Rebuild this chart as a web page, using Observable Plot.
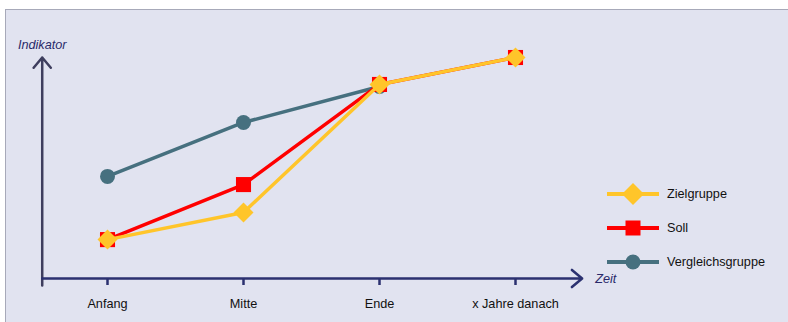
<!DOCTYPE html>
<html><head><meta charset="utf-8">
<script src="https://cdn.jsdelivr.net/npm/d3@7"></script>
<script src="https://cdn.jsdelivr.net/npm/@observablehq/plot@0.6"></script>
<style>
html,body{margin:0;padding:0;background:#fff;}
#wrap{position:relative;width:788px;height:322px;overflow:hidden;font-family:"Liberation Sans",Arial,sans-serif;}
#panel{position:absolute;left:5px;top:9px;right:0;bottom:0;background:#E1E3F0;border-top:1px solid #A7A9B9;border-left:1px solid #A7A9B9;}
#chart{position:absolute;left:0;top:0;}
#legend{position:absolute;left:607px;top:177px;}
.row{display:flex;align-items:center;height:34px;font-size:12.7px;color:#111;}
.row svg{margin-right:8px;display:block}
</style></head><body>
<div id="wrap"><div id="panel"></div><div id="chart"></div><div id="legend"></div></div>
<script>
const phases = ["Anfang", "Mitte", "Ende", "x Jahre danach"];
const zielgruppe = [17.6, 29.9, 87.8, 100];
const soll = [17.6, 42.5, 87.8, 100];
const vergleichsgruppe = [46.2, 70.6, 86.9];
const seriesNames = ["Zielgruppe", "Soll", "Vergleichsgruppe"];
const seriesColors = ["#FFC52A", "#FF0000", "#46707F"];

const toRows = (vals) => vals.map((v, i) => ({i, v}));
const zRows = toRows(zielgruppe), sRows = toRows(soll), vRows = toRows(vergleichsgruppe);

const xDomain = [-0.5, phases.length - 0.5];
const xStart = -0.48, xEnd = 3.49;
const yTop = 100, yBottomExt = -3.2;

const chart = Plot.plot({
  width: 788, height: 322,
  marginLeft: 39, marginRight: 205, marginTop: 57, marginBottom: 44,
  x: {domain: xDomain},
  y: {domain: [0, 100], axis: null},
  style: {background: "transparent", fontFamily: "Liberation Sans, Arial, sans-serif", fontSize: "12.7px"},
  marks: [
    Plot.axisX({ticks: phases.map((_, i) => i), tickFormat: i => phases[i], tickSize: 7, tickPadding: 13,
      stroke: "#2B3170", strokeWidth: 2.5, fill: "#111", fontSize: 12.7, label: null}),
    Plot.arrow([{x1: xStart, y1: yBottomExt, x2: xStart, y2: yTop}], {x1: "x1", y1: "y1", x2: "x2", y2: "y2",
      stroke: "#3E3E5E", strokeWidth: 2.5, headLength: 8, headAngle: 80}),
    Plot.arrow([{x1: xStart, y1: 0, x2: xEnd, y2: 0}], {x1: "x1", y1: "y1", x2: "x2", y2: "y2",
      stroke: "#2B3170", strokeWidth: 2.5, headLength: 8, headAngle: 80}),
    Plot.text([{x: xStart, y: yTop, t: "Indikator"}], {x: "x", y: "y", text: "t", dy: -13,
      fill: "#2A2A6A", fontStyle: "italic", fontSize: 12.7}),
    Plot.text([{x: xEnd, y: 0, t: "Zeit"}], {x: "x", y: "y", text: "t", dx: 13, textAnchor: "start",
      fill: "#2A2A6A", fontStyle: "italic", fontSize: 12.7}),
    Plot.line(vRows, {x: "i", y: "v", stroke: seriesColors[2], strokeWidth: 3.5}),
    Plot.dot(vRows, {x: "i", y: "v", symbol: "circle", r: 7.5, fill: seriesColors[2], stroke: "none"}),
    Plot.line(sRows, {x: "i", y: "v", stroke: seriesColors[1], strokeWidth: 3.5}),
    Plot.dot(sRows, {x: "i", y: "v", symbol: "square", r: 8.5, fill: seriesColors[1], stroke: "none"}),
    Plot.line(zRows, {x: "i", y: "v", stroke: seriesColors[0], strokeWidth: 3.5}),
    Plot.dot(zRows, {x: "i", y: "v", symbol: "diamond2", r: 9, fill: seriesColors[0], stroke: "none"})
  ]
});
document.getElementById("chart").appendChild(chart);

// legend
const legend = d3.select("#legend");
const symSizes = [308, 225, 177];
const d3Syms = [d3.symbolDiamond2, d3.symbolSquare, d3.symbolCircle];
seriesNames.forEach((name, k) => {
  const row = legend.append("div").attr("class", "row");
  const svg = row.append("svg").attr("width", 52).attr("height", 24);
  svg.append("line").attr("x1", 0).attr("x2", 52).attr("y1", 12).attr("y2", 12)
    .attr("stroke", seriesColors[k]).attr("stroke-width", 4);
  svg.append("path").attr("transform", "translate(26,12)")
    .attr("d", d3.symbol(d3Syms[k], symSizes[k])()).attr("fill", seriesColors[k]);
  row.append("span").text(name);
});
</script>
</body></html>
